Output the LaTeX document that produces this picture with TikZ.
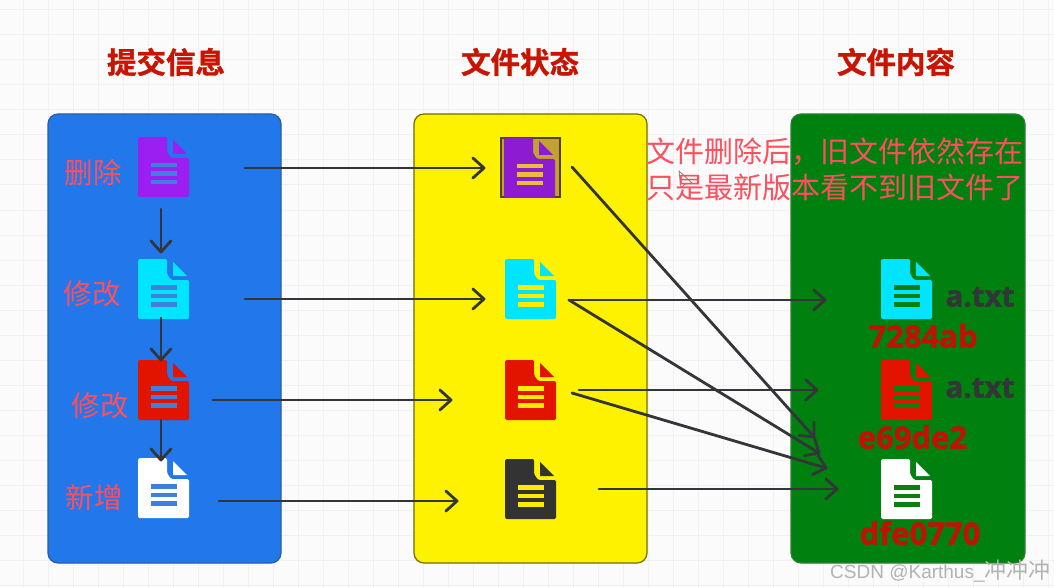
\documentclass[tikz,border=0pt]{standalone}
\usepackage{fontspec}
\setmainfont{Noto Sans CJK SC}
\newfontfamily\wmfont{Liberation Sans}
\newfontfamily\boldlat[FakeBold=1.2]{Open Sans Bold}
\newfontfamily\heavycjk[FakeBold=1.2]{Noto Sans CJK SC Bold}
\usetikzlibrary{calc}
\definecolor{pagebg}{HTML}{FBFBFB}
\definecolor{gridc}{HTML}{F1F1F1}
\definecolor{boxblue}{HTML}{2277EA}
\definecolor{boxyellow}{HTML}{FFF200}
\definecolor{boxgreen}{HTML}{00800E}
\definecolor{titlered}{HTML}{C81400}
\definecolor{labelred}{HTML}{FF4F5E}
\definecolor{hashred}{HTML}{BE1408}
\definecolor{darkline}{HTML}{333538}
\definecolor{docpurple}{HTML}{9B1FF0}
\definecolor{docpurpleb}{HTML}{8C1BD2}
\definecolor{doccyan}{HTML}{00E5FF}
\definecolor{docred}{HTML}{E21400}
\definecolor{docdark}{HTML}{333333}
\definecolor{barblue}{HTML}{3F7FDD}
\definecolor{bargold}{HTML}{E8BE3C}
\definecolor{baryellow}{HTML}{FFEA00}
\definecolor{bargreen}{HTML}{0B800E}
\tikzset{
  panel/.style={rounded corners=10pt,line width=1.2pt},
  link/.style={draw=darkline,line width=2.8pt,line join=round,line cap=round},
  headtext/.style={text=titlered,font=\heavycjk\fontsize{29.5}{30}\selectfont,inner sep=0pt},
  optext/.style={text=labelred,font=\fontsize{28.5}{29}\selectfont,inner sep=0pt},
  notetext/.style={text=labelred,font=\fontsize{29}{29}\selectfont,inner sep=0pt,anchor=west},
  hashtext/.style={text=hashred,font=\boldlat\fontsize{31}{31}\selectfont,inner sep=0pt},
  nametext/.style={text=darkline,font=\boldlat\fontsize{29.5}{29.5}\selectfont,inner sep=0pt},
}
% #1 left, #2 top, #3 body colour, #4 colour of bars and fold gap
\newcommand{\docicon}[4]{%
  \begin{scope}[shift={(#1,#2)}]
    \fill[#3,rounded corners=1.5pt] (0,0) -- (29,0) -- (29,15) -- (33,21) -- (51,21) -- (51,60) -- (0,60) -- cycle;
    \fill[#3] (35,3) -- (49,17) -- (35,17) -- cycle;
    \fill[#4] (12.5,26) rectangle (39,30.5);
    \fill[#4] (12.5,34.5) rectangle (39,39);
    \fill[#4] (12.5,43) rectangle (39,47.5);
  \end{scope}}
\begin{document}
\begin{tikzpicture}[x=1pt,y=-1pt]
\useasboundingbox (0,0) rectangle (1054,588);
\fill[pagebg] (0,0) rectangle (1054,588);
\foreach \gx in {-2,23,...,1054} \draw[gridc,line width=1pt] (\gx,0) -- (\gx,588);
\foreach \gy in {10,35,...,588} \draw[gridc,line width=1pt] (0,\gy) -- (1054,\gy);

\node[headtext] (t1) at (166,62) {提交信息};
\node[headtext] (t2) at (520,62) {文件状态};
\node[headtext] (t3) at (896,62) {文件内容};

\draw[panel,fill=boxblue,draw=boxblue!60!darkline] (48,114) rectangle (281,563);
\draw[panel,fill=boxyellow,draw=black!55!boxyellow] (414,114) rectangle (647,563);
\draw[panel,fill=boxgreen,draw=boxgreen!65!gray] (791,114) rectangle (1025,563);

% left column
\docicon{138}{137}{docpurple}{barblue}
\docicon{138}{259}{doccyan}{barblue}
\docicon{138}{360}{docred}{barblue}
\docicon{138}{458}{white}{barblue}
% middle column
\draw[fill=bargold!85!black,draw=black!65!bargold,line width=1.2pt] (501,138) rectangle (560,197);
\docicon{504}{138}{docpurpleb}{bargold}
\docicon{505}{259}{doccyan}{baryellow}
\docicon{505}{360}{docred}{baryellow}
\docicon{505}{459}{docdark}{baryellow}
% right column
\docicon{881}{259}{doccyan}{bargreen}
\docicon{881}{360}{docred}{bargreen}
\docicon{881}{459}{white}{bargreen}

\node[optext] (op1) at (93,173) {删除};
\node[optext] (op2) at (92,294) {修改};
\node[optext] (op3) at (100,406) {修改};
\node[optext] (op4) at (94,498) {新增};

\node[nametext] (n1) at (980,297) {a.txt};
\node[nametext] (n2) at (980,388) {a.txt};
\node[hashtext] (h1) at (923,336) {7284ab};
\node[hashtext] (h2) at (912.5,437) {e69de2};
\node[hashtext] (h3) at (920,533) {dfe0770};

% connector ends
\coordinate (a1) at (245,168); \coordinate (b1) at (484,168);
\coordinate (a2) at (245,299); \coordinate (b2) at (484,299);
\coordinate (a3) at (213,400); \coordinate (b3) at (451,400);
\coordinate (a4) at (219,501); \coordinate (b4) at (457,501);
\coordinate (v1) at (161,209); \coordinate (v2) at (161,252);
\coordinate (v3) at (161,318); \coordinate (v4) at (161,360);
\coordinate (v5) at (161,420); \coordinate (v6) at (161,460);
\coordinate (p0) at (572,167); \coordinate (p1) at (814,437);
\coordinate (c0) at (569,300); \coordinate (c1) at (825,300); \coordinate (c2) at (819,453);
\coordinate (r0) at (579,390); \coordinate (r1) at (817,390);
\coordinate (s0) at (572,393); \coordinate (s1) at (826,468);
\coordinate (k0) at (599,489); \coordinate (k1) at (837,489);

\foreach \u/\w in {a1/b1,a2/b2,a3/b3,a4/b4,v1/v2,v3/v4,v5/v6,p0/p1,c0/c1,c0/c2,r0/r1,s0/s1,k0/k1}{
  \draw[link] (\u) -- (\w);
  \draw[link] ($(\w)!15pt!42:(\u)$) -- (\w) -- ($(\w)!15pt!-42:(\u)$);
}

% mouse cursor
\draw[fill=white,draw=gray,line width=.8pt,line join=round] (679,171) -- (681,188) -- (685,184) -- (692,183) -- cycle;

\node[notetext] (note1) at (646,152) {文件删除后，旧文件依然存在};
\node[notetext] (note2) at (646,187) {只是最新版本看不到旧文件了};

\node[inner sep=0pt,anchor=west,text=black!30,font=\fontsize{22}{22}\selectfont] (wm) at (830,571) {{\wmfont\fontsize{19}{19}\selectfont CSDN @Karthus\_}冲冲冲};
\end{tikzpicture}
\end{document}
